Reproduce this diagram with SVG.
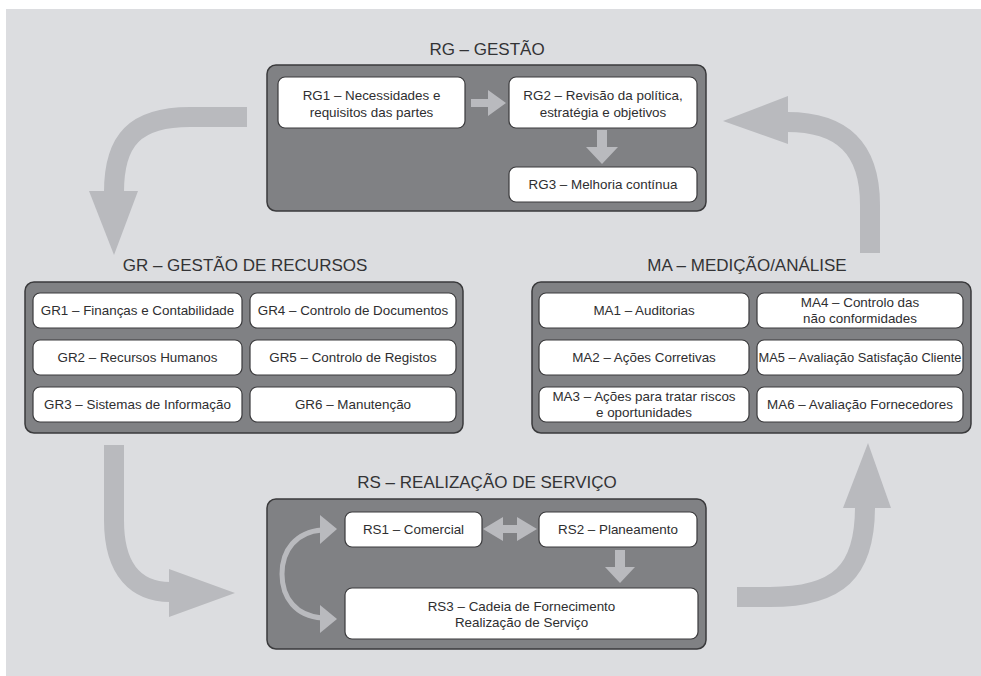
<svg xmlns="http://www.w3.org/2000/svg" width="981" height="676" viewBox="0 0 981 676">
  <defs>
    <style>
      .panel { fill: #dcdde0; }
      .group { fill: #808184; stroke: #3a3a3c; stroke-width: 1.5; }
      .box { fill: #ffffff; stroke: #3a3a3c; stroke-width: 1.2; }
      .title { font-family: "Liberation Sans", Arial, sans-serif; font-size: 17px; fill: #333335; text-anchor: middle; }
      .label { font-family: "Liberation Sans", Arial, sans-serif; font-size: 13.4px; fill: #2e2e30; text-anchor: middle; }
      .flow { fill: none; stroke: #b9babe; stroke-width: 20; }
      .flow-head { fill: #b9babe; }
      .step { fill: #b9babe; }
      .loop { fill: none; stroke: #b9babe; stroke-width: 5; }
    </style>
  </defs>

  <rect class="panel" x="6" y="9" width="975" height="667"/>

  <!-- RG: management -->
  <g id="rg">
    <text class="title" x="487" y="55">RG – GESTÃO</text>
    <rect class="group" x="267" y="65" width="439" height="146" rx="9"/>
  </g>
  <g id="rg1">
    <rect class="box" x="278" y="77" width="187" height="51" rx="7"/>
    <text class="label" x="371.5" y="100">RG1 – Necessidades e</text>
    <text class="label" x="371.5" y="117">requisitos das partes</text>
  </g>
  <g id="rg2">
    <rect class="box" x="509" y="77" width="188" height="51" rx="7"/>
    <text class="label" x="603" y="100">RG2 – Revisão da política,</text>
    <text class="label" x="603" y="117">estratégia e objetivos</text>
  </g>
  <g id="rg3">
    <rect class="box" x="509" y="167" width="188" height="35" rx="7"/>
    <text class="label" x="603" y="189">RG3 – Melhoria contínua</text>
  </g>

  <!-- GR: resource management -->
  <g id="gr">
    <text class="title" x="245" y="271">GR – GESTÃO DE RECURSOS</text>
    <rect class="group" x="25" y="282" width="438" height="151" rx="9"/>
  </g>
  <g id="gr1">
    <rect class="box" x="33" y="293" width="209" height="35" rx="7"/>
    <text class="label" x="137.5" y="315">GR1 – Finanças e Contabilidade</text>
  </g>
  <g id="gr2">
    <rect class="box" x="33" y="340" width="209" height="35" rx="7"/>
    <text class="label" x="137.5" y="362">GR2 – Recursos Humanos</text>
  </g>
  <g id="gr3">
    <rect class="box" x="33" y="387" width="209" height="35" rx="7"/>
    <text class="label" x="137.5" y="409">GR3 – Sistemas de Informação</text>
  </g>
  <g id="gr4">
    <rect class="box" x="250" y="293" width="206" height="35" rx="7"/>
    <text class="label" x="353" y="315">GR4 – Controlo de Documentos</text>
  </g>
  <g id="gr5">
    <rect class="box" x="250" y="340" width="206" height="35" rx="7"/>
    <text class="label" x="353" y="362">GR5 – Controlo de Registos</text>
  </g>
  <g id="gr6">
    <rect class="box" x="250" y="387" width="206" height="35" rx="7"/>
    <text class="label" x="353" y="409">GR6 – Manutenção</text>
  </g>

  <!-- MA: measurement and analysis -->
  <g id="ma">
    <text class="title" x="747" y="271">MA – MEDIÇÃO/ANÁLISE</text>
    <rect class="group" x="532" y="282" width="439" height="151" rx="9"/>
  </g>
  <g id="ma1">
    <rect class="box" x="539" y="293" width="210" height="35" rx="7"/>
    <text class="label" x="644" y="315">MA1 – Auditorias</text>
  </g>
  <g id="ma2">
    <rect class="box" x="539" y="340" width="210" height="35" rx="7"/>
    <text class="label" x="644" y="362">MA2 – Ações Corretivas</text>
  </g>
  <g id="ma3">
    <rect class="box" x="539" y="387" width="210" height="35" rx="7"/>
    <text class="label" x="644" y="401">MA3 – Ações para tratar riscos</text>
    <text class="label" x="644" y="417">e oportunidades</text>
  </g>
  <g id="ma4">
    <rect class="box" x="757" y="293" width="206" height="35" rx="7"/>
    <text class="label" x="860" y="307">MA4 – Controlo das</text>
    <text class="label" x="860" y="323">não conformidades</text>
  </g>
  <g id="ma5">
    <rect class="box" x="757" y="340" width="206" height="35" rx="7"/>
    <text class="label" x="860" y="362" textLength="203" lengthAdjust="spacingAndGlyphs">MA5 – Avaliação Satisfação Cliente</text>
  </g>
  <g id="ma6">
    <rect class="box" x="757" y="387" width="206" height="35" rx="7"/>
    <text class="label" x="860" y="409">MA6 – Avaliação Fornecedores</text>
  </g>

  <!-- RS: service delivery -->
  <g id="rs">
    <text class="title" x="487" y="488">RS – REALIZAÇÃO DE SERVIÇO</text>
    <rect class="group" x="267" y="499" width="439" height="150" rx="9"/>
  </g>
  <g id="rs1">
    <rect class="box" x="345" y="512" width="137" height="35" rx="7"/>
    <text class="label" x="413.5" y="534">RS1 – Comercial</text>
  </g>
  <g id="rs2">
    <rect class="box" x="539" y="512" width="158" height="35" rx="7"/>
    <text class="label" x="618" y="534">RS2 – Planeamento</text>
  </g>
  <g id="rs3">
    <rect class="box" x="345" y="588" width="353" height="51" rx="7"/>
    <text class="label" x="521.5" y="611">RS3 – Cadeia de Fornecimento</text>
    <text class="label" x="521.5" y="627">Realização de Serviço</text>
  </g>

  <!-- Arrows: the main cycle between groups, then the steps inside RG and RS -->
  <g id="connectors">
    <!-- RG to GR -->
    <path class="flow" d="M247,117 L190,117 C135,117 114,140 114,192"/>
    <polygon class="flow-head" points="89,191 138,191 114,255"/>
    <!-- GR to RS -->
    <path class="flow" d="M114,445 L114,520 C114,572 138,592 170,592"/>
    <polygon class="flow-head" points="169,569 169,617 235,593"/>
    <!-- RS to MA -->
    <path class="flow" d="M737,597 L770,597 C838,597 865,572 865,507"/>
    <polygon class="flow-head" points="843,508 891,508 868,443"/>
    <!-- MA to RG -->
    <path class="flow" d="M870,253 L870,205 C870,148 842,122 787,122"/>
    <polygon class="flow-head" points="788,96 788,144 723,121"/>

    <!-- RG1 to RG2, RG2 to RG3 -->
    <polygon class="step" points="471,99 488,99 488,90 506,103 488,116 488,107 471,107"/>
    <polygon class="step" points="597,130 607,130 607,147 618,147 602,164 586,147 597,147"/>

    <!-- RS1 and RS2 both ways, RS2 to RS3, RS1 and RS3 loop -->
    <polygon class="step" points="483,529 503,517 503,525 517,525 517,517 537,529 517,541 517,533 503,533 503,541"/>
    <polygon class="step" points="615,550 625,550 625,567 635,567 620,583 605,567 615,567"/>
    <path class="loop" d="M322,530 C296,532 282,550 282,574 C282,598 296,616 322,618"/>
    <polygon class="step" points="320,515 337,529 320,544"/>
    <polygon class="step" points="320,605 337,619 320,633"/>
  </g>
</svg>
